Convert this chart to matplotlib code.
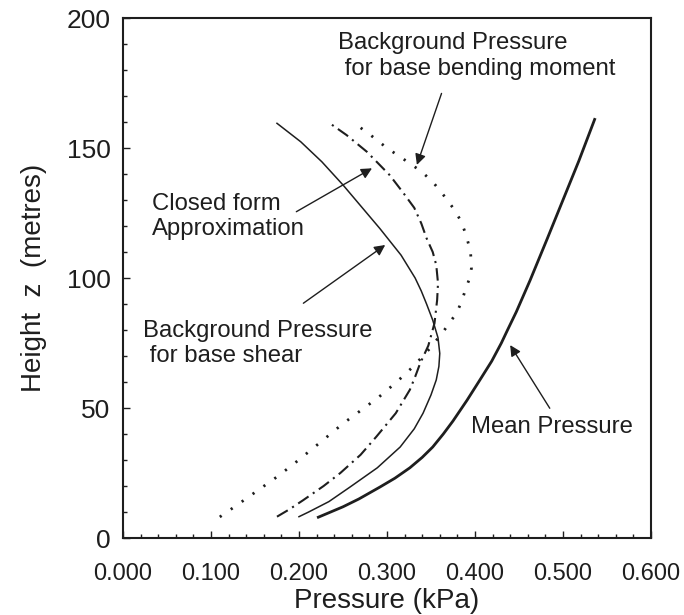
import matplotlib
matplotlib.use("Agg")
import matplotlib.pyplot as plt
from matplotlib.ticker import MultipleLocator, FormatStrFormatter

plt.rcParams['font.family'] = ['Liberation Sans', 'DejaVu Sans']

INK = '#1e1e1e'

# Mean pressure (thick solid)
mean_z = [8, 10, 12, 15, 19.6, 23, 27, 31, 35, 40, 45, 53, 61, 68, 75, 80,
          87, 99, 115, 130, 145, 161]
mean_p = [0.222, 0.236, 0.250, 0.268, 0.292, 0.309, 0.326, 0.340, 0.352,
          0.364, 0.375, 0.391, 0.406, 0.419, 0.430, 0.437, 0.447, 0.4625,
          0.482, 0.500, 0.518, 0.536]

# Background pressure for base shear (thin solid)
shear_z = [8.2, 10, 14, 19.6, 27, 35, 42, 48, 55, 60.8, 66, 71, 77, 83.8, 90,
           95, 100, 108.8, 119, 127.4, 135.8, 144.7, 152.4, 159.5]
shear_p = [0.200, 0.211, 0.234, 0.258, 0.289, 0.315, 0.331, 0.341, 0.350,
           0.356, 0.359, 0.360, 0.358, 0.352, 0.345, 0.339, 0.332, 0.316,
           0.292, 0.271, 0.250, 0.226, 0.202, 0.175]

# Closed form approximation (dash-dot)
closed_z = [8.2, 11, 14.6, 20, 25, 32, 39, 48, 57, 62, 67, 74, 82.6, 91.5, 98,
            105, 110, 115.3, 121, 127, 133, 139.6, 148.6, 155, 160]
closed_p = [0.175, 0.189, 0.205, 0.228, 0.247, 0.270, 0.288, 0.310, 0.326,
            0.332, 0.3375, 0.347, 0.354, 0.357, 0.358, 0.356, 0.352, 0.345,
            0.339, 0.331, 0.318, 0.303, 0.277, 0.254, 0.233]

# Background pressure for base bending moment (dotted)
bend_z = [8.1, 13, 18.5, 24, 29.3, 37, 44, 54, 60, 66, 73, 79.4, 86.5, 91,
          95.4, 100, 103.8, 110, 116.5, 122, 127, 132, 137, 141, 145, 150,
          155.6, 158.5]
bend_p = [0.110, 0.131, 0.154, 0.177, 0.197, 0.225, 0.250, 0.290, 0.311,
          0.330, 0.349, 0.364, 0.379, 0.385, 0.389, 0.394, 0.396, 0.395,
          0.390, 0.384, 0.375, 0.364, 0.352, 0.339, 0.322, 0.300, 0.279,
          0.267]

fig = plt.figure(figsize=(6.84, 6.15), dpi=100)
ax = fig.add_axes([0.1798, 0.1252, 0.7719, 0.8455])

ax.plot(mean_p, mean_z, color=INK, lw=2.0)
ax.plot(shear_p, shear_z, color=INK, lw=1.1)
ax.plot(closed_p, closed_z, color=INK, lw=1.5, linestyle=(0, (6, 2.5, 1, 2.5)))
ax.plot(bend_p, bend_z, color=INK, lw=2.0, linestyle=(0, (0.8, 4)))

ax.set_xlim(0, 0.6)
ax.set_ylim(0, 200)
ax.xaxis.set_major_locator(MultipleLocator(0.1))
ax.xaxis.set_minor_locator(MultipleLocator(0.02))
ax.xaxis.set_major_formatter(FormatStrFormatter('%.3f'))
ax.yaxis.set_major_locator(MultipleLocator(50))
ax.yaxis.set_minor_locator(MultipleLocator(10))

ax.tick_params(which='both', direction='in', top=False, right=False,
               color=INK, width=1.0)
ax.tick_params(which='major', length=5)
ax.tick_params(which='minor', length=3)
ax.tick_params(axis='x', labelsize=17, pad=18, labelcolor=INK)
ax.tick_params(axis='y', labelsize=19, pad=9, labelcolor=INK)
for s in ax.spines.values():
    s.set_linewidth(1.5)
    s.set_color(INK)

ax.set_xlabel('Pressure (kPa)', fontsize=20, color=INK, labelpad=2)
ax.set_ylabel('Height  z  (metres)', fontsize=20, color=INK, labelpad=14)

arrow = dict(arrowstyle='-|>', color=INK, lw=1.0, mutation_scale=16,
             shrinkA=0, shrinkB=0)
tfs = 17.2

ax.text(0.2443, 185.4, 'Background Pressure\n for base bending moment',
        fontsize=tfs, color=INK, ha='left', va='center', linespacing=1.2)
ax.annotate('', xy=(0.334, 143.5), xytext=(0.362, 171), arrowprops=arrow)

ax.text(0.0326, 123.6, 'Closed form\nApproximation', fontsize=tfs,
        color=INK, ha='left', va='center', linespacing=1.2)
ax.annotate('', xy=(0.283, 142.2), xytext=(0.197, 125.5), arrowprops=arrow)

ax.text(0.023, 74.9, 'Background Pressure\n for base shear', fontsize=tfs,
        color=INK, ha='left', va='center', linespacing=1.2)
ax.annotate('', xy=(0.298, 112.7), xytext=(0.205, 90.3), arrowprops=arrow)

ax.text(0.396, 42.8, 'Mean Pressure', fontsize=tfs, color=INK,
        ha='left', va='center')
ax.annotate('', xy=(0.44, 74.2), xytext=(0.485, 49.9), arrowprops=arrow)

fig.savefig('out.png', dpi=100)
